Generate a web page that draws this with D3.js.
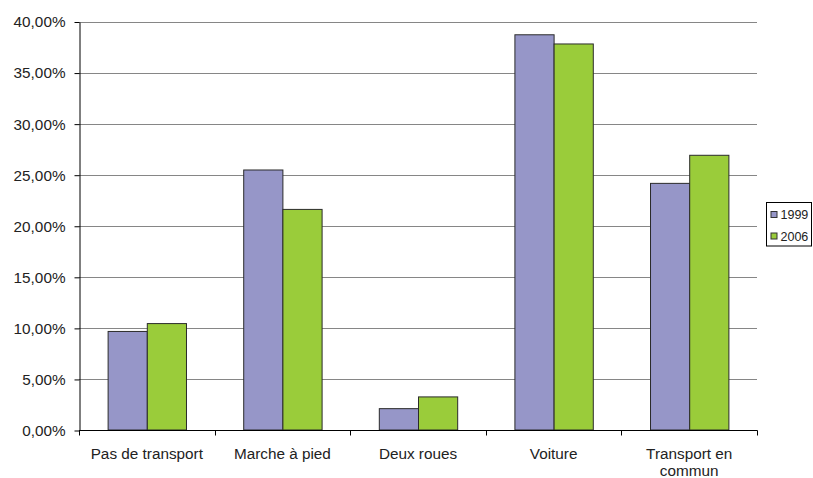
<!DOCTYPE html>
<html>
<head>
<meta charset="utf-8">
<script src="https://cdn.jsdelivr.net/npm/d3@7"></script>
<style>
  html, body { margin: 0; padding: 0; background: #fff; }
  svg { display: block; font-family: "Liberation Sans", Arial, sans-serif; }
</style>
</head>
<body>
<svg id="chart" width="813" height="478"></svg>
<script>
// Modal share of trips by mode, 1999 vs 2006
const categories = ["Pas de transport", "Marche à pied", "Deux roues", "Voiture", "Transport en commun"];
const categoryLines = [["Pas de transport"], ["Marche à pied"], ["Deux roues"], ["Voiture"], ["Transport en", "commun"]];
const seriesNames = ["1999", "2006"];
const values1999 = [0.0965, 0.2546, 0.0209, 0.387, 0.2415];
const values2006 = [0.1042, 0.2160, 0.0324, 0.378, 0.2690];
const yTicks = [0, 0.05, 0.10, 0.15, 0.20, 0.25, 0.30, 0.35, 0.40];
const colors = ["#9696C8", "#9ACC3A"];

const svg = d3.select("#chart");
const plotLeft = 79, plotRight = 757, plotTop = 21.5, plotBottom = 430;
const FONT = "Liberation Sans, Arial, sans-serif";

const x = d3.scaleBand().domain(categories).range([plotLeft, plotRight]).paddingInner(0).paddingOuter(0);
const x1 = d3.scaleBand().domain(seriesNames).range([0, x.bandwidth()]).paddingInner(0).paddingOuter(0.73);
const y = d3.scaleLinear().domain([0, 0.40]).range([plotBottom, plotTop]);

const fmt = v => d3.format(".2f")(v * 100).replace(".", ",") + "%";

// horizontal gridlines
svg.append("g").selectAll("line").data(yTicks.filter(t => t > 0)).join("line")
  .attr("x1", plotLeft).attr("x2", plotRight)
  .attr("y1", d => Math.round(y(d)) + 0.5).attr("y2", d => Math.round(y(d)) + 0.5)
  .attr("stroke", "#868686").attr("stroke-width", 1);

// bars
const data = categories.map((c, i) => ({ c, vals: [values1999[i], values2006[i]] }));
const groups = svg.append("g").selectAll("g").data(data).join("g")
  .attr("transform", d => `translate(${x(d.c)},0)`);
groups.selectAll("rect").data(d => d.vals.map((v, j) => ({ v, s: seriesNames[j], j }))).join("rect")
  .attr("x", d => x1(d.s) + 0.5)
  .attr("y", d => y(d.v))
  .attr("width", x1.bandwidth())
  .attr("height", d => plotBottom - y(d.v))
  .attr("fill", d => colors[d.j])
  .attr("stroke", "#2b2b2b").attr("stroke-width", 1);

// y axis
const yAxis = d3.axisLeft(y).tickValues(yTicks).tickFormat(fmt).tickSize(5).tickSizeOuter(0);
const yg = svg.append("g").attr("transform", `translate(${plotLeft + 0.5},0.5)`).call(yAxis)
  .attr("font-family", FONT);
yg.select(".domain").attr("stroke", "#000");
yg.selectAll(".tick line").attr("stroke", "#000");
yg.selectAll(".tick text").attr("font-size", 15.3).attr("fill", "#222").attr("x", -14)
  .attr("font-family", FONT);

// x axis
const xg = svg.append("g").attr("transform", `translate(0,${plotBottom + 0.5})`);
xg.append("line").attr("x1", plotLeft).attr("x2", plotRight + 0.5).attr("stroke", "#000");
xg.selectAll("line.tk").data(d3.range(categories.length + 1)).join("line").attr("class", "tk")
  .attr("x1", i => Math.round(plotLeft + i * x.bandwidth()) + 0.5)
  .attr("x2", i => Math.round(plotLeft + i * x.bandwidth()) + 0.5)
  .attr("y1", 0).attr("y2", 5).attr("stroke", "#000");
const lab = xg.selectAll("text").data(categories).join("text")
  .attr("x", d => x(d) + x.bandwidth() / 2)
  .attr("y", 28.5)
  .attr("text-anchor", "middle")
  .attr("font-family", FONT)
  .attr("font-size", 15.3).attr("fill", "#222");
lab.each(function(d, i) {
  d3.select(this).selectAll("tspan").data(categoryLines[i]).join("tspan")
    .attr("x", x(d) + x.bandwidth() / 2)
    .attr("dy", (t, k) => k === 0 ? 0 : 17)
    .text(t => t);
});

// legend
const lg = svg.append("g").attr("transform", "translate(766.5,202.5)");
lg.append("rect").attr("width", 45).attr("height", 43.5).attr("fill", "#fff").attr("stroke", "#000");
const items = lg.selectAll("g").data(seriesNames).join("g")
  .attr("transform", (d, i) => `translate(4.5,${12 + i * 21.5})`);
items.append("rect").attr("x", 0).attr("y", -3).attr("width", 6).attr("height", 6)
  .attr("fill", (d, i) => colors[i]).attr("stroke", "#333");
items.append("text").attr("x", 9.5).attr("y", 4.5).attr("font-family", FONT)
  .attr("font-size", 12.5).attr("fill", "#222").text(d => d);
</script>
</body>
</html>
